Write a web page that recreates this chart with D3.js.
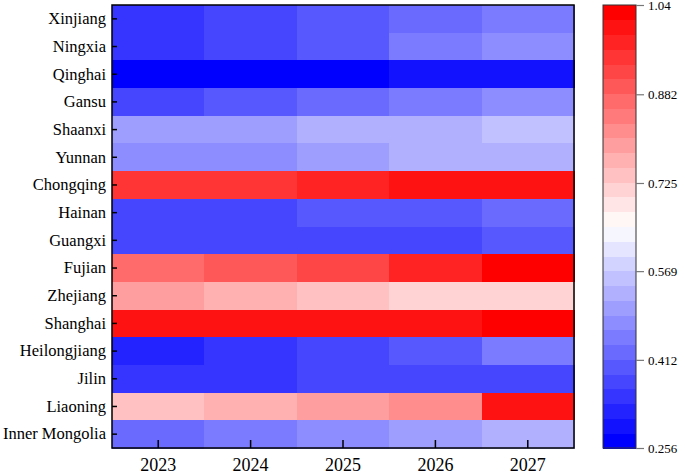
<!DOCTYPE html>
<html>
<head>
<meta charset="utf-8">
<script src="https://cdn.jsdelivr.net/npm/d3@7"></script>
<style>
  html, body { margin: 0; padding: 0; background: #fff; }
  svg { display: block; }
  svg text { font-family: "Liberation Serif", "DejaVu Serif", serif !important; fill: #000; }
</style>
</head>
<body>
<svg id="chart" width="685" height="474"></svg>
<script>
// ---- data ----
const provinces = ["Xinjiang","Ningxia","Qinghai","Gansu","Shaanxi","Yunnan","Chongqing","Hainan",
  "Guangxi","Fujian","Zhejiang","Shanghai","Heilongjiang","Jilin","Liaoning","Inner Mongolia"];
const years = ["2023","2024","2025","2026","2027"];
const v2023 = [0.347,0.347,0.269,0.374,0.504,0.478,0.948,0.374,0.374,0.870,0.791,1.000,0.321,0.347,0.739,0.426];
const v2024 = [0.374,0.374,0.269,0.400,0.504,0.478,0.948,0.374,0.374,0.896,0.765,1.000,0.347,0.347,0.765,0.452];
const v2025 = [0.400,0.400,0.269,0.426,0.530,0.504,0.974,0.400,0.374,0.922,0.739,1.000,0.374,0.374,0.791,0.478];
const v2026 = [0.426,0.452,0.295,0.452,0.530,0.530,1.000,0.400,0.374,0.974,0.713,1.000,0.400,0.374,0.818,0.504];
const v2027 = [0.452,0.478,0.295,0.478,0.557,0.530,1.000,0.426,0.400,1.027,0.713,1.027,0.452,0.374,1.000,0.530];
const seriesByYear = [v2023, v2024, v2025, v2026, v2027];
const colorTicks = [0.256, 0.412, 0.569, 0.725, 0.882, 1.04];
const colorDomain = [0.256, 1.04];
const nLevels = 30;

// ---- layout ----
const svg = d3.select("#chart");
const plot = {left: 112, right: 574, top: 5, bottom: 448};
const cbar = {left: 603, right: 636, top: 5, bottom: 448};
const serif = "'Liberation Serif', 'DejaVu Serif', serif";

const x = d3.scaleBand().domain(years).range([plot.left, plot.right]).padding(0);
const y = d3.scaleBand().domain(provinces).range([plot.top, plot.bottom]).padding(0);

const interp = d3.piecewise(d3.interpolateRgb, ["#0000ff", "#ffffff", "#ff0000"]);
const levelColors = d3.range(nLevels).map(i => interp(i / (nLevels - 1)));
const color = d3.scaleQuantize().domain(colorDomain).range(levelColors);

const cells = [];
years.forEach((yr, j) => provinces.forEach((p, i) => cells.push({yr, p, v: seriesByYear[j][i]})));

svg.append("g").selectAll("rect").data(cells).join("rect")
  .attr("x", d => x(d.yr))
  .attr("y", d => y(d.p))
  .attr("width", x.bandwidth() + 0.5)
  .attr("height", y.bandwidth() + 0.5)
  .attr("fill", d => color(d.v))
  .attr("shape-rendering", "crispEdges");

// axes
const yAxis = svg.append("g")
  .attr("transform", `translate(${plot.left},0)`)
  .call(d3.axisLeft(y).tickSize(-5).tickPadding(6));
yAxis.attr("font-family", null);
yAxis.select(".domain").remove();
yAxis.selectAll("line").attr("stroke", "#000").attr("stroke-width", 1.5);
yAxis.selectAll("text").style("font-size", "16.5px").style("font-family", serif);

const xAxis = svg.append("g")
  .attr("transform", `translate(0,${plot.bottom})`)
  .call(d3.axisBottom(x).tickSize(-8).tickPadding(10.5));
xAxis.attr("font-family", null);
xAxis.select(".domain").remove();
xAxis.selectAll("line").attr("stroke", "#000").attr("stroke-width", 1.5);
xAxis.selectAll("text").style("font-size", "18px").style("font-family", serif);

svg.append("rect")
  .attr("x", plot.left).attr("y", plot.top)
  .attr("width", plot.right - plot.left).attr("height", plot.bottom - plot.top)
  .attr("fill", "none").attr("stroke", "#000").attr("stroke-width", 1.5);

// colour bar
const cy = d3.scaleLinear().domain(colorDomain).range([cbar.bottom, cbar.top]);
const step = (colorDomain[1] - colorDomain[0]) / nLevels;
svg.append("g").selectAll("rect").data(levelColors).join("rect")
  .attr("x", cbar.left)
  .attr("y", (c, i) => cy(colorDomain[0] + (i + 1) * step))
  .attr("width", cbar.right - cbar.left)
  .attr("height", (c, i) => cy(colorDomain[0] + i * step) - cy(colorDomain[0] + (i + 1) * step) + 0.5)
  .attr("fill", c => c)
  .attr("shape-rendering", "crispEdges");

svg.append("rect")
  .attr("x", cbar.left).attr("y", cbar.top)
  .attr("width", cbar.right - cbar.left).attr("height", cbar.bottom - cbar.top)
  .attr("fill", "none").attr("stroke", "#333").attr("stroke-width", 1);

const cAxis = svg.append("g")
  .attr("transform", `translate(${cbar.right},0)`)
  .call(d3.axisRight(cy).tickValues(colorTicks).tickFormat(d => String(d)).tickSize(8).tickPadding(4));
cAxis.attr("font-family", null);
cAxis.select(".domain").remove();
cAxis.selectAll("line").attr("stroke", "#777").attr("stroke-width", 1.2);
cAxis.selectAll("text").style("font-size", "13px").style("font-family", serif);
</script>
</body>
</html>
